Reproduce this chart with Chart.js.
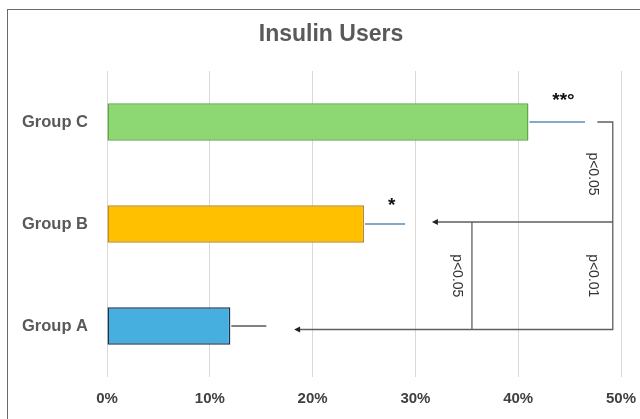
<!DOCTYPE html>
<html>
<head>
<meta charset="utf-8">
<script src="https://cdn.jsdelivr.net/npm/chart.js@4"></script>
<style>
  html, body { margin: 0; padding: 0; background: #fff; overflow: hidden; }
  #wrap { position: relative; width: 640px; height: 419px; overflow: hidden; }
  #frame { position: absolute; left: 7px; top: 9px; width: 700px; height: 500px;
           border: 1px solid #6a6a6a; box-sizing: border-box; }
  canvas { position: absolute; left: 0; top: 0; }
</style>
</head>
<body>
<div id="wrap">
  <div id="frame"></div>
  <canvas id="chart" width="640" height="419"></canvas>
</div>
<script>
// Share of insulin users per group (%)
const categories = ['Group C', 'Group B', 'Group A'];
const usersPct = [41, 25, 12];
const errorUpperPct = [46.5, 29, 15.5];
const significanceMarks = ['**°', '*', ''];
const xTickValues = [0, 10, 20, 30, 40, 50];
const titleText = 'Insulin Users';

const barFill = ['#8ed873', '#ffc000', '#47aee0'];
const barEdge = ['#5ea845', '#c28a1c', '#1f3347'];
const errorColor = ['#5b8db8', '#5b8db8', '#595959'];

const FONT = "'Liberation Sans', Arial, sans-serif";

// Title, error whiskers, significance marks and comparison brackets
const overlay = {
  id: 'overlay',
  afterDraw(chart) {
    const ctx = chart.ctx;
    const xs = chart.scales.x, ys = chart.scales.y;
    const X = v => xs.getPixelForValue(v);
    const Y = i => ys.getPixelForValue(i);

    ctx.save();
    // title
    ctx.fillStyle = '#595959';
    ctx.font = 'bold 23px ' + FONT;
    ctx.textAlign = 'center';
    ctx.textBaseline = 'middle';
    ctx.fillText(titleText, 331, 35);

    // whiskers (upper side only)
    ctx.lineWidth = 1.6;
    usersPct.forEach((v, i) => {
      ctx.strokeStyle = errorColor[i];
      ctx.beginPath();
      ctx.moveTo(X(v) + 1, Y(i));
      ctx.lineTo(X(errorUpperPct[i]), Y(i));
      ctx.stroke();
    });

    // significance marks above whiskers
    const markAt = [44.4, 27.7, 0];
    const markLift = [21, 18, 0];
    ctx.fillStyle = '#111';
    ctx.font = 'bold 19px ' + FONT;
    significanceMarks.forEach((m, i) => {
      if (!m) return;
      ctx.fillText(m, X(markAt[i]), Y(i) - markLift[i]);
    });

    // comparison brackets
    const yC = Y(0), yB = Y(1) - 2, yA = Y(2) + 3.5;
    const xStart = X(47.7), xRight = X(49.2), xInner = X(35.5);
    const tipB = X(31.6), tipA = X(18.2);
    ctx.strokeStyle = '#5f5f5f';
    ctx.lineWidth = 1.3;
    ctx.beginPath();
    ctx.moveTo(xStart, yC);
    ctx.lineTo(xRight, yC);
    ctx.lineTo(xRight, yA);
    ctx.lineTo(tipA + 4, yA);
    ctx.moveTo(xRight, yB);
    ctx.lineTo(tipB + 4, yB);
    ctx.moveTo(xInner, yB);
    ctx.lineTo(xInner, yA);
    ctx.stroke();

    ctx.fillStyle = '#222';
    [[tipB, yB], [tipA, yA]].forEach(([x, y]) => {
      ctx.beginPath();
      ctx.moveTo(x, y);
      ctx.lineTo(x + 6, y - 3);
      ctx.lineTo(x + 6, y + 3);
      ctx.closePath();
      ctx.fill();
    });

    // rotated p-values
    ctx.fillStyle = '#333';
    ctx.font = '14px ' + FONT;
    const pLabels = [
      ['p<0.05', X(47.3), (yC + yB) / 2 + 2],
      ['p<0.01', X(47.3), (yB + yA) / 2],
      ['p<0.05', X(34.0), (yB + yA) / 2]
    ];
    pLabels.forEach(([t, x, y]) => {
      ctx.save();
      ctx.translate(x, y);
      ctx.rotate(Math.PI / 2);
      ctx.textAlign = 'center';
      ctx.textBaseline = 'middle';
      ctx.fillText(t, 0, 0);
      ctx.restore();
    });
    ctx.restore();
  }
};

new Chart(document.getElementById('chart'), {
  type: 'bar',
  data: {
    labels: categories,
    datasets: [{
      data: usersPct,
      backgroundColor: barFill,
      borderColor: barEdge,
      borderWidth: 1.5,
      borderSkipped: false,
      categoryPercentage: 1,
      barPercentage: 0.37
    }]
  },
  options: {
    indexAxis: 'y',
    responsive: false,
    animation: false,
    devicePixelRatio: 1,
    layout: { padding: { top: 71, right: 19, bottom: 11, left: 0 } },
    plugins: {
      legend: { display: false },
      title: { display: false },
      tooltip: { enabled: false }
    },
    scales: {
      x: {
        min: 0,
        max: 50,
        afterBuildTicks: s => { s.ticks = xTickValues.map(v => ({ value: v })); },
        afterFit: s => { s.height = 31; s.paddingLeft = 0; s.paddingRight = 0; },
        ticks: {
          callback: v => v + '%',
          font: { family: FONT, size: 15, weight: 'bold' },
          color: '#404040',
          padding: 13,
          maxRotation: 0
        },
        grid: { color: '#d9d9d9', lineWidth: 1, drawTicks: false },
        border: { display: false }
      },
      y: {
        afterFit: s => { s.width = 107; s.paddingTop = 0; s.paddingBottom = 0; },
        ticks: {
          font: { family: FONT, size: 16.5, weight: 'bold' },
          color: '#595959',
          padding: 11
        },
        grid: { display: false },
        border: { display: false }
      }
    }
  },
  plugins: [overlay]
});
</script>
</body>
</html>
